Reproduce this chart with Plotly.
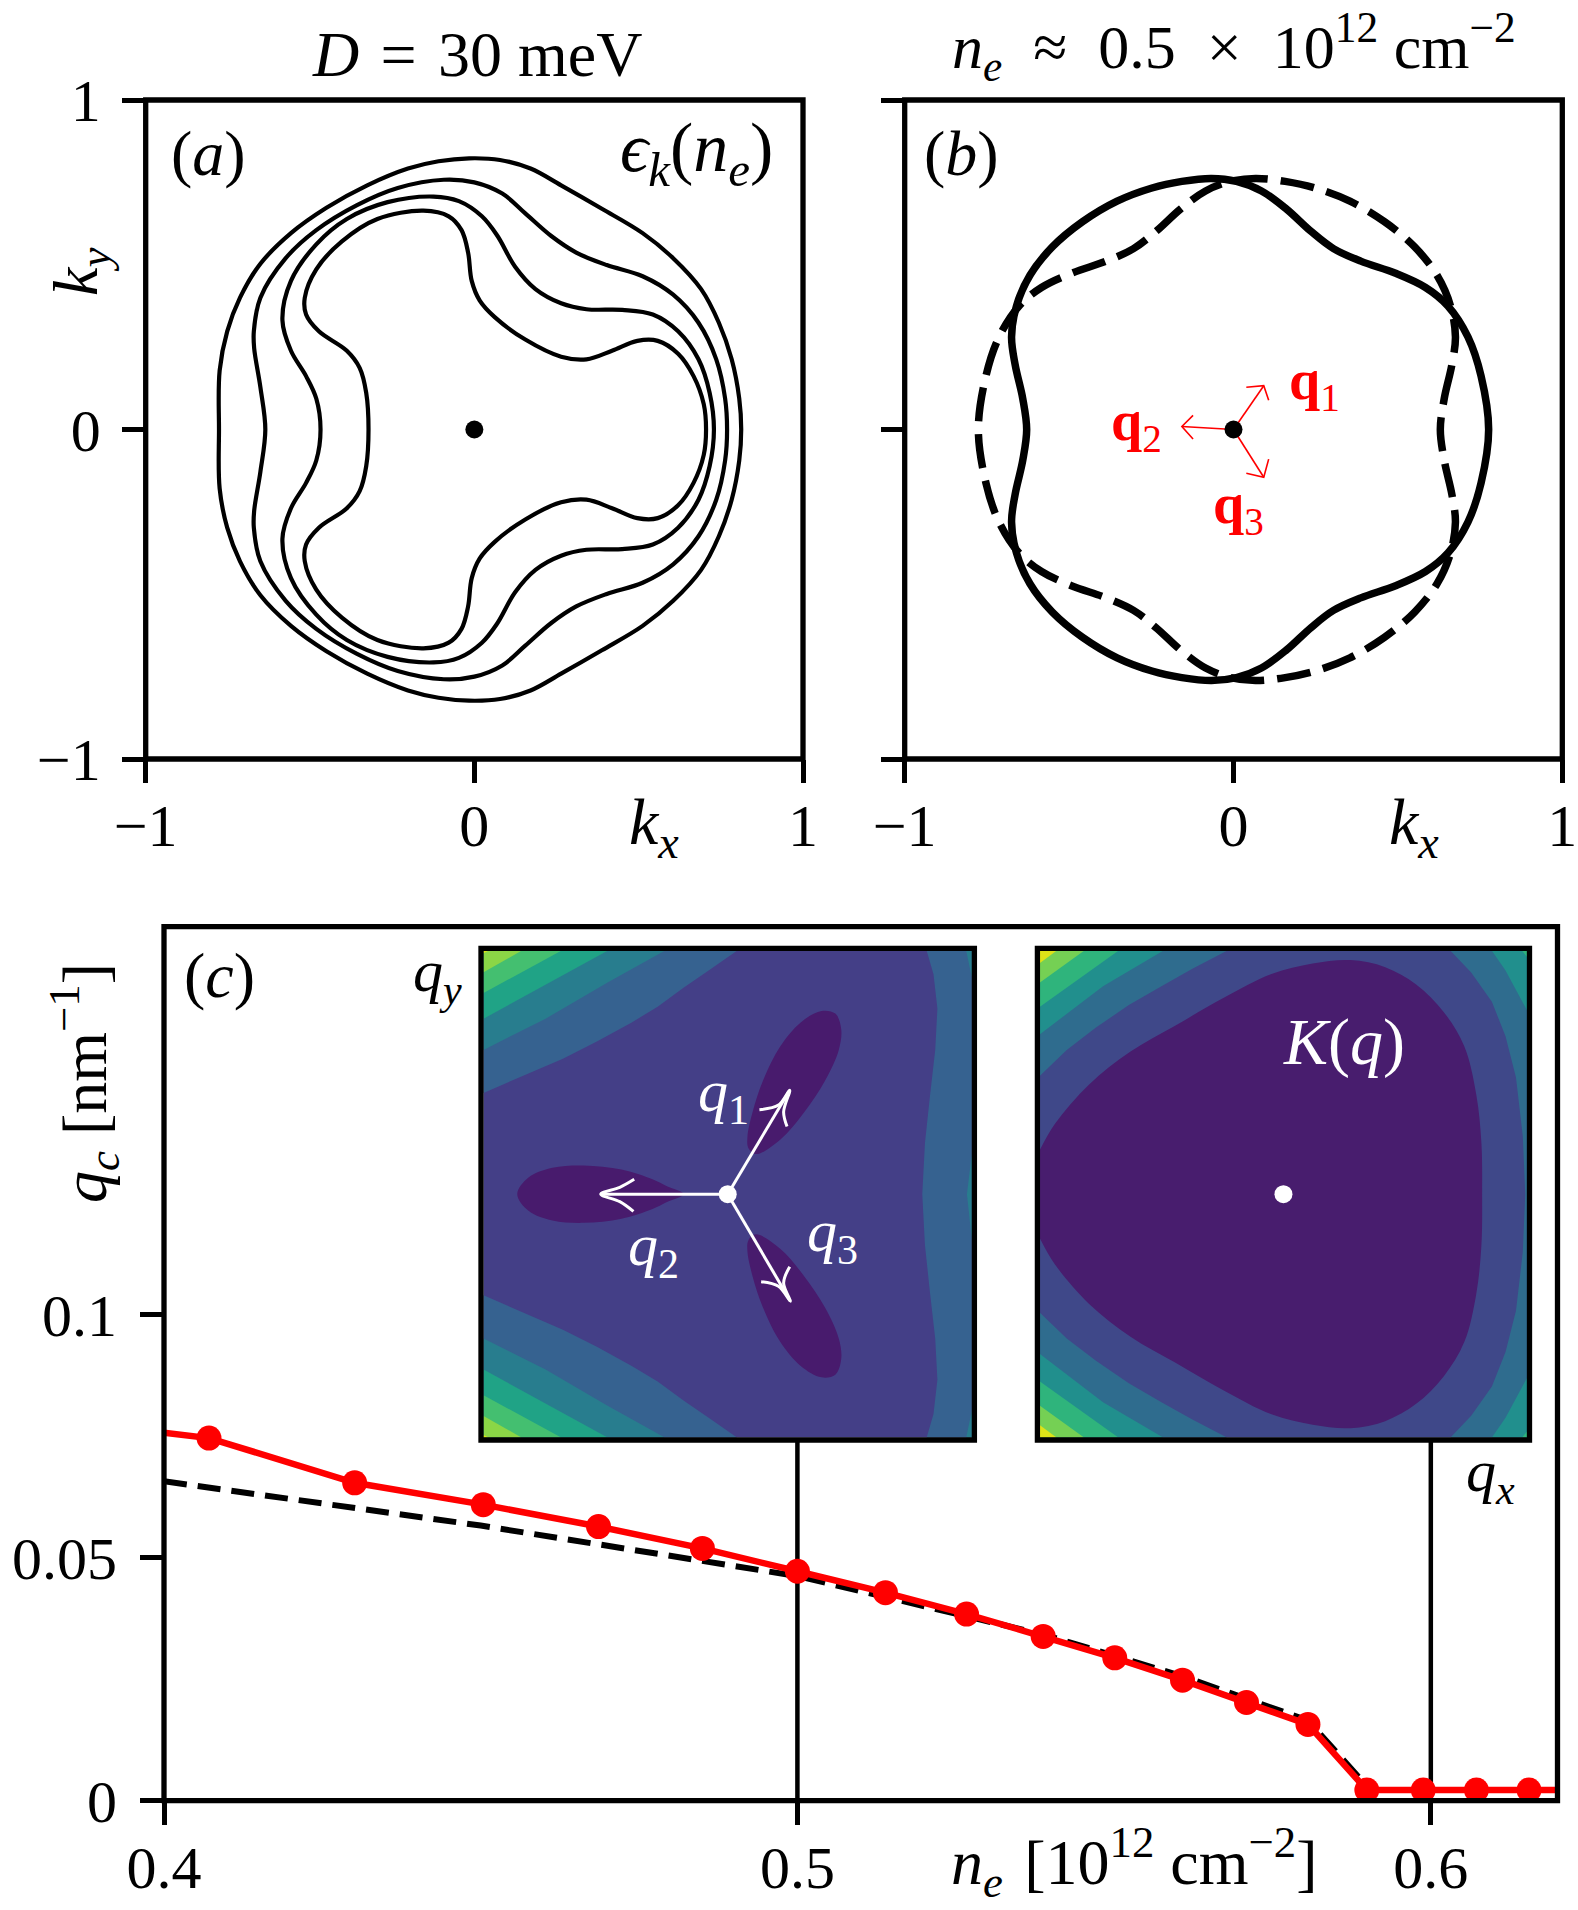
import plotly.graph_objects as go

W, H = 1578, 1910
SERIF = "Liberation Serif"
TXT = 60
SPINE = 5.3

# ---------- panel (a): constant-energy contours, upper half (kx, ky) ----------
c1_x = [-0.777,-0.775,-0.752,-0.713,-0.651,-0.558,-0.450,-0.326,-0.202,-0.109,-0.016,0.078,0.171,0.264,0.388,0.512,0.605,0.690,0.744,0.783,0.806,0.812]
c1_y = [0,0.179,0.298,0.400,0.503,0.596,0.673,0.741,0.792,0.814,0.823,0.818,0.792,0.741,0.670,0.596,0.520,0.426,0.324,0.213,0.094,0]
c2_x = [-0.636,-0.651,-0.670,-0.671,-0.651,-0.574,-0.481,-0.357,-0.233,-0.093,0,0.085,0.155,0.233,0.310,0.403,0.512,0.605,0.682,0.736,0.763,0.769]
c2_y = [0,0.128,0.247,0.298,0.400,0.520,0.605,0.681,0.733,0.758,0.750,0.716,0.656,0.588,0.537,0.499,0.465,0.409,0.324,0.213,0.094,0]
c3_x = [-0.468,-0.481,-0.512,-0.558,-0.584,-0.558,-0.481,-0.388,-0.264,-0.124,-0.047,0.023,0.070,0.124,0.186,0.264,0.341,0.450,0.543,0.620,0.682,0.716,0.729]
c3_y = [0,0.094,0.162,0.239,0.332,0.451,0.562,0.639,0.690,0.707,0.693,0.647,0.588,0.494,0.426,0.383,0.365,0.363,0.349,0.298,0.213,0.111,0]
c4_x = [-0.322,-0.329,-0.349,-0.388,-0.473,-0.512,-0.516,-0.481,-0.403,-0.295,-0.155,-0.078,-0.039,-0.019,-0.008,0.016,0.062,0.155,0.264,0.341,0.419,0.496,0.558,0.620,0.667,0.698,0.705]
c4_y = [0,0.111,0.187,0.239,0.298,0.349,0.400,0.486,0.571,0.639,0.664,0.647,0.605,0.537,0.451,0.392,0.341,0.273,0.221,0.213,0.239,0.269,0.269,0.230,0.162,0.077,0]

# ---------- panel (b): Fermi contour, upper half ----------
fs_x = [-0.629,-0.641,-0.664,-0.675,-0.660,-0.619,-0.551,-0.460,-0.354,-0.248,-0.157,-0.067,0.009,0.085,0.160,0.236,0.304,0.387,0.493,0.584,0.652,0.713,0.753,0.776]
fs_y = [0,0.094,0.196,0.281,0.375,0.468,0.554,0.630,0.693,0.733,0.753,0.762,0.753,0.724,0.670,0.601,0.549,0.511,0.474,0.431,0.375,0.281,0.162,0]

# arrows of panel (b): (tip x, tip y, barb1 x, barb1 y, barb2 x, barb2 y)
red_arrows = [
    (-0.157, 0.009, -0.123, 0.043, -0.123, -0.029),
    (0.092, 0.133, 0.039, 0.128, 0.107, 0.089),
    (0.092, -0.145, 0.039, -0.133, 0.107, -0.090),
]

# ---------- panel (c) ----------
ne_pts = [0.4071,0.4301,0.4504,0.4686,0.4850,0.5000,0.5139,0.5267,0.5388,0.5501,0.5608,0.5709,0.5806,0.5899,0.5988,0.6072,0.6155]
qc_pts = [0.0746,0.0654,0.0609,0.0564,0.0519,0.0472,0.0428,0.0384,0.0338,0.0294,0.0248,0.0202,0.0157,0.0022,0.0022,0.0022,0.0022]
ne_start, qc_start = 0.40, 0.0757
ne_end, qc_end = 0.622, 0.0022
ne_fit = [0.40,0.45,0.50,0.5139,0.5388,0.5608,0.5806,0.5899]
qc_fit = [0.0657,0.0566,0.0462,0.0420,0.0342,0.0256,0.0165,0.0030]
grid_ne = [0.5, 0.6]
grid_top = 0.08

# ---------- inset 1: filled contours (upper-left boundaries, mirrored below) ----------
i1_colors = ["#443f87", "#366290", "#287d8e", "#20a386", "#44bf70", "#8bd646", "#dfe318"]
i1_bands = [
    ([-1.0,-0.838,-0.675,-0.534,-0.393,-0.287,-0.181,-0.075,0.038], [0.416,0.487,0.557,0.628,0.706,0.770,0.848,0.921,1.0]),
    ([-1.0,-0.746,-0.492,-0.258], [0.593,0.721,0.870,1.0]),
    ([-1.0,-0.746,-0.492], [0.721,0.862,1.0]),
    ([-1.0,-0.682], [0.827,1.0]),
    ([-1.0,-0.845], [0.912,1.0]),
    ([-1.0,-0.98], [0.99,1.0]),
]
i1_right_x = [0.815,0.843,0.859,0.850,0.829,0.808,0.797]
i1_right_y = [1.0,0.904,0.763,0.593,0.408,0.210,0]
i1_sliver_x = [1.0,0.980,1.0]
i1_sliver_y = [0.167,0,-0.187]
i1_corner_x = [0.977,1.0]
i1_corner_y = [1.0,0.89]
lobe1_x = [0.116,0.085,0.081,0.102,0.144,0.215,0.299,0.384,0.441,0.465,0.455,0.398,0.314,0.215,0.116]
lobe1_y = [0.165,0.189,0.238,0.338,0.465,0.607,0.706,0.753,0.742,0.678,0.593,0.465,0.338,0.224,0.165]
lobe2_x = [-0.181,-0.251,-0.308,-0.435,-0.590,-0.718,-0.816,-0.862]
lobe2_y = [0,0.033,0.061,0.101,0.118,0.108,0.068,0]
lobe_color = "#481b6d"

# white arrows of inset 1: x, y of barb - tip - barb
w_shafts = [(-0.520, 0.0), (0.254, 0.427), (0.257, -0.440)]
w_heads_x = [[-0.383,-0.442,-0.520,-0.442,-0.386], [0.130,0.208,0.254,0.229,0.243], [0.137,0.208,0.257,0.229,0.254]]
w_heads_y = [[0.061,0.028,0,-0.031,-0.071], [0.347,0.366,0.427,0.338,0.278], [-0.360,-0.379,-0.440,-0.365,-0.298]]

# ---------- inset 2 ----------
i2_colors = ["#3f4889", "#2f6c8e", "#218f8d", "#2fb47c", "#75d054", "#dde318"]
i2_bands = [
    ([-1.0,-0.890,-0.770,-0.635,-0.501,-0.374,-0.232], [0.487,0.593,0.685,0.777,0.855,0.926,1.0]),
    ([-1.0,-0.741,-0.494], [0.657,0.855,1.0]),
    ([-1.0,-0.678], [0.770,1.0]),
    ([-1.0,-0.819], [0.870,1.0]),
    ([-1.0,-0.932], [0.95,1.0]),
]
i2_right_x = [0.686,0.771,0.856,0.912,0.955,0.983,0.993]
i2_right_y = [1.0,0.911,0.791,0.649,0.479,0.238,0]
i2_right2_x = [0.856,0.912,1.0]
i2_right2_y = [1.0,0.919,0.756]
i2_right3_x = [0.98,1.0]
i2_right3_y = [1.0,0.976]
dark_x = [-1,-0.939,-0.798,-0.628,-0.445,-0.247,-0.049,0.120,0.276,0.418,0.545,0.658,0.743,0.792,0.813,0.816]
dark_y = [0.182,0.288,0.451,0.586,0.692,0.806,0.905,0.948,0.962,0.933,0.862,0.749,0.607,0.409,0.210,0]
dark_color = "#481d6e"


def mirror(x, y):
    return list(x) + list(x[-2::-1]), list(y) + [-v for v in y[-2::-1]]


fig = go.Figure()


def line(x, y, ax, color="black", width=3.5, dash=None, shape="spline"):
    fig.add_trace(go.Scatter(x=x, y=y, xaxis="x" + ax, yaxis="y" + ax, mode="lines",
                             line=dict(color=color, width=width, dash=dash, shape=shape),
                             hoverinfo="skip"))


def fill(x, y, ax, color, shape="linear"):
    fig.add_trace(go.Scatter(x=x, y=y, xaxis="x" + ax, yaxis="y" + ax, mode="lines", fill="toself",
                             fillcolor=color, line=dict(width=0, color=color, shape=shape),
                             hoverinfo="skip"))


def dot(x, y, ax, color, size):
    fig.add_trace(go.Scatter(x=[x], y=[y], xaxis="x" + ax, yaxis="y" + ax, mode="markers",
                             marker=dict(color=color, size=size), hoverinfo="skip"))


# panel a
for cx, cy in [(c1_x, c1_y), (c2_x, c2_y), (c3_x, c3_y), (c4_x, c4_y)]:
    mx, my = mirror(cx, cy)
    line(mx, my, "", width=4.2)
dot(0, 0, "", "black", 18)

# panel b
mx, my = mirror(fs_x, fs_y)
line(mx, my, "2", width=7.5)
line([-v for v in mx], my, "2", width=7.5, dash="34px,13px")
for tx, ty, b1x, b1y, b2x, b2y in red_arrows:
    line([0, tx], [0, ty], "2", color="red", width=1.6, shape="linear")
    line([b1x, tx, b2x], [b1y, ty, b2y], "2", color="red", width=1.6, shape="linear")
dot(0, 0, "2", "black", 18)

# panel c
for g in grid_ne:
    line([g, g], [0, grid_top], "3", width=4.5, shape="linear")
line(ne_fit, qc_fit, "3", width=6, dash="23px,11px", shape="linear")
line([ne_start] + ne_pts + [ne_end], [qc_start] + qc_pts + [qc_end], "3", color="red", width=6.5, shape="linear")
fig.add_trace(go.Scatter(x=ne_pts, y=qc_pts, xaxis="x3", yaxis="y3", mode="markers",
                         marker=dict(color="red", size=25), hoverinfo="skip"))

# inset 1
fill([-1, 1, 1, -1, -1], [-1, -1, 1, 1, -1], "4", i1_colors[0])
rx, ry = mirror(i1_right_x, i1_right_y)
fill(rx + [1, 1], ry + [-1, 1], "4", i1_colors[1])
fill(i1_sliver_x, i1_sliver_y, "4", i1_colors[2])
fill(i1_corner_x + [1], i1_corner_y + [1], "4", i1_colors[2])
fill(i1_corner_x + [1], [-v for v in i1_corner_y] + [-1], "4", i1_colors[2])
for (bx, by), col in zip(i1_bands, i1_colors[1:]):
    fill(bx + [-1], by + [1], "4", col)
    fill(bx + [-1], [-v for v in by] + [-1], "4", col)
fill(lobe1_x, lobe1_y, "4", lobe_color, "spline")
fill(lobe1_x, [-v for v in lobe1_y], "4", lobe_color, "spline")
lx, ly = mirror(lobe2_x, lobe2_y)
fill(lx, ly, "4", lobe_color, "spline")
for (sx, sy), hx, hy in zip(w_shafts, w_heads_x, w_heads_y):
    line([0, sx], [0, sy], "4", color="white", width=3, shape="linear")
    line(hx, hy, "4", color="white", width=3)
dot(0, 0, "4", "white", 18)

# inset 2
fill([-1, 1, 1, -1, -1], [-1, -1, 1, 1, -1], "5", i2_colors[0])
rx, ry = mirror(i2_right_x, i2_right_y)
fill(rx + [1, 1], ry + [-1, 1], "5", i2_colors[1])
for rx0, ry0, col in [(i2_right2_x, i2_right2_y, i2_colors[2]), (i2_right3_x, i2_right3_y, i2_colors[3])]:
    fill(rx0 + [1], ry0 + [1], "5", col)
    fill(rx0 + [1], [-v for v in ry0] + [-1], "5", col)
for (bx, by), col in zip(i2_bands, i2_colors[1:]):
    fill(bx + [-1], by + [1], "5", col)
    fill(bx + [-1], [-v for v in by] + [-1], "5", col)
dx, dy = mirror(dark_x, dark_y)
fill(dx, dy, "5", dark_color, "spline")
dot(0, 0, "5", "white", 18)


def dom_x(a, b):
    return [a / W, b / W]


def dom_y(a, b):
    return [1 - b / H, 1 - a / H]


tickfont = dict(family=SERIF, size=TXT, color="black")
common = dict(showgrid=False, zeroline=False, showline=False, ticks="outside", tickcolor="black",
              tickfont=tickfont, automargin=False, ticklen=23, tickwidth=SPINE)
k_tv, k_tt = [-1, 0, 1], ["\u22121", "0", "1"]

layout = dict(template="none", width=W, height=H, margin=dict(l=0, r=0, t=0, b=0, pad=0), autosize=False,
              paper_bgcolor="white", plot_bgcolor="white", showlegend=False)

layout["xaxis"] = dict(domain=dom_x(145.7, 803), range=[-1, 1], anchor="y",
                       tickvals=k_tv, ticktext=k_tt, ticklabelstandoff=-9, **common)
layout["yaxis"] = dict(domain=dom_y(100, 759), range=[-1, 1], anchor="x",
                       tickvals=k_tv, ticktext=k_tt, ticklabelstandoff=9, **common)
layout["xaxis2"] = dict(domain=dom_x(904.7, 1562.3), range=[-1, 1], anchor="y2",
                        tickvals=k_tv, ticktext=k_tt, ticklabelstandoff=-9, **common)
layout["yaxis2"] = dict(domain=dom_y(100, 759), range=[-1, 1], anchor="x2",
                        tickvals=k_tv, ticktext=["", "", ""], **common)
layout["xaxis3"] = dict(domain=dom_x(164, 1557.5), range=[0.4, 0.62], anchor="y3",
                        tickvals=[0.4, 0.5, 0.6], ticktext=["0.4", "0.5", "0.6"], ticklabelstandoff=-9, **common)
layout["yaxis3"] = dict(domain=dom_y(926.7, 1800.7), range=[0, 0.1798], anchor="x3",
                        tickvals=[0, 0.05, 0.1], ticktext=["0", "0.05", "0.1"], ticklabelstandoff=11, **common)
plain = dict(showgrid=False, zeroline=False, showline=False, ticks="", showticklabels=False,
             range=[-1.0105, 1.0105], automargin=False)
layout["xaxis4"] = dict(domain=dom_x(481, 974.4), anchor="y4", **plain)
layout["yaxis4"] = dict(domain=dom_y(948.3, 1440), anchor="x4", **plain)
layout["xaxis5"] = dict(domain=dom_x(1037.4, 1529.5), anchor="y5", **plain)
layout["yaxis5"] = dict(domain=dom_y(948.3, 1440), anchor="x5", **plain)

layout["shapes"] = [
    dict(type="rect", xref="x%s domain" % a, yref="y%s domain" % a, x0=0, x1=1, y0=0, y1=1, layer="above",
         line=dict(color="black", width=SPINE))
    for a in ["", "2", "3", "4", "5"]
]


def note(px, py, text, color="black", size=TXT, angle=0):
    return dict(x=px / W, y=1 - py / H, xref="paper", yref="paper", text=text, showarrow=False,
                xanchor="center", yanchor="middle", textangle=angle,
                font=dict(family=SERIF, size=size, color=color))


def it(s):
    return "<i>" + s + "</i>"


EN = "\u2002"
THIRD = "\u2004"
layout["annotations"] = [
    note(477, 54, it("D") + THIRD + "=" + THIRD + "30 meV", size=64),
    note(1234, 46, it("n") + "<sub>" + it("e") + "</sub>" + EN + "\u2248" + EN + "0.5" + EN + "\u00d7" + EN
         + "10<sup>12</sup> cm<sup>\u22122</sup>", size=62),
    note(208, 154, "(" + it("a") + ")", size=64),
    note(696, 153, it("\u03f5") + "<sub>" + it("k") + "</sub>(" + it("n") + "<sub>" + it("e") + "</sub>)", size=70),
    note(80, 272, it("k") + "<sub>" + it("y") + "</sub>", size=64, angle=-90),
    note(654, 826, it("k") + "<sub>" + it("x") + "</sub>", size=66),
    note(961, 154, "(" + it("b") + ")", size=64),
    note(1414, 826, it("k") + "<sub>" + it("x") + "</sub>", size=66),
    note(1314, 384, "<b>q</b><sub>1</sub>", color="red", size=56),
    note(1136, 425, "<b>q</b><sub>2</sub>", color="red", size=56),
    note(1238, 508, "<b>q</b><sub>3</sub>", color="red", size=56),
    note(220, 975, "(" + it("c") + ")", size=64),
    note(84, 1083, it("q") + "<sub>" + it("c") + "</sub> [nm<sup>\u22121</sup>]", size=64, angle=-90),
    note(437, 975, it("q") + "<sub>" + it("y") + "</sub>"),
    note(1490, 1475, it("q") + "<sub>" + it("x") + "</sub>"),
    note(1134, 1862, it("n") + "<sub>" + it("e") + "</sub>" + THIRD + "[10<sup>12</sup> cm<sup>\u22122</sup>]", size=64),
    note(723, 1095, it("q") + "<sub>1</sub>", color="white"),
    note(653, 1249, it("q") + "<sub>2</sub>", color="white"),
    note(832, 1235, it("q") + "<sub>3</sub>", color="white"),
    note(1344, 1042, it("K") + "(" + it("q") + ")", color="white", size=66),
]
fig.update_layout(**layout)
fig.write_html("out.html", config={"displayModeBar": False}, post_script="document.body.style.margin='0';")
